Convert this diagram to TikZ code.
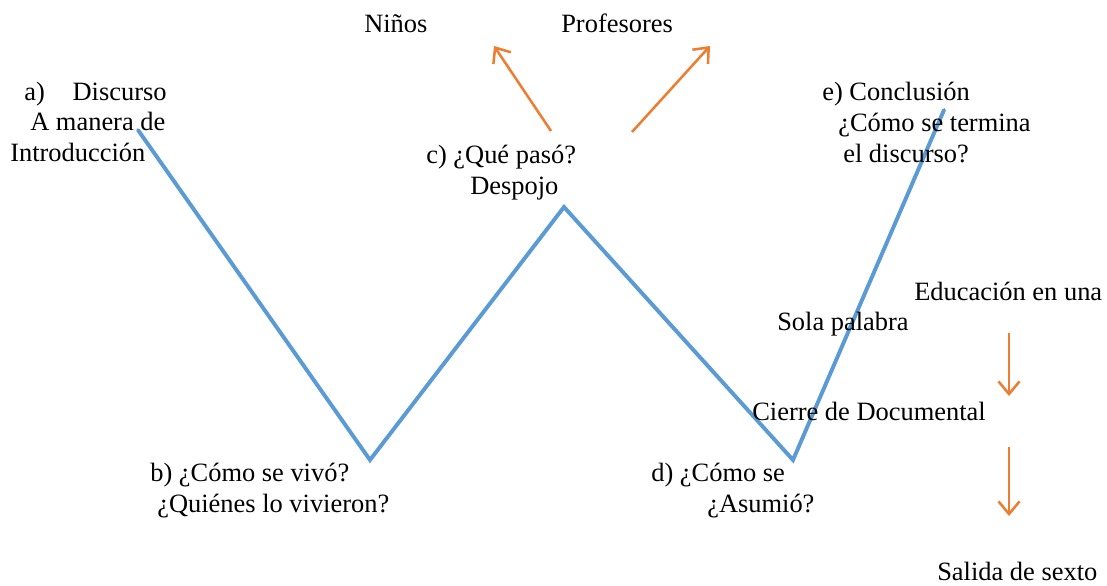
\documentclass[tikz,border=0pt]{standalone}
\usepackage{fontspec}
\setmainfont{Liberation Serif}
\usetikzlibrary{arrows.meta}
\definecolor{azul}{HTML}{5B9BD5}
\definecolor{naranja}{HTML}{ED7D31}
\tikzset{
  wline/.style={azul, line width=2.8pt, line cap=round, line join=miter},
  flecha/.style={naranja, line width=1.8pt, -{Straight Barb[length=9pt,width=15pt]}},
  txt/.style={anchor=base west, inner sep=0pt, font=\fontsize{18.8}{22}\selectfont}
}
\begin{document}
\begin{tikzpicture}[x=0.025cm, y=-0.025cm]
			\useasboundingbox (0,0) rectangle (1107,586);
			% la W
			\coordinate (p1) at (138,130);
			\coordinate (p2) at (370,460);
			\coordinate (p3) at (564,207);
			\coordinate (p4) at (793,460);
			\coordinate (p5) at (944,110);
			\draw[wline](p1)--(p2)--(p3)--(p4)--(p5);
			% textos
			\node[txt] (ninos) at (364,32) {Niños};
			\node[txt] (prof) at (561,32) {Profesores};
			\node[txt] (a1) at (24,100) {a)\hspace{1.05em}Discurso};
			\node[txt] (a2) at (30,130) {A manera de};
			\node[txt] (a3) at (10,161) {Introducción};
			\node[txt] (c1) at (426,163) {c) ¿Qué pasó?};
			\node[txt] (c2) at (470,194) {Despojo};
			\node[txt] (e1) at (822,100) {e) Conclusión};
			\node[txt] (e2) at (838,131) {¿Cómo se termina};
			\node[txt] (e3) at (843,162) {el discurso?};
			\node[txt] (edu) at (914,300) {Educación en una};
			\node[txt] (sola) at (777,330) {Sola palabra};
			\node[txt] (cierre) at (752,420) {Cierre de Documental};
			\node[txt] (b1) at (150,481) {b) ¿Cómo se vivó?};
			\node[txt] (b2) at (157,512) {¿Quiénes lo vivieron?};
			\node[txt] (d1) at (651,481) {d) ¿Cómo se};
			\node[txt] (d2) at (707,512) {¿Asumió?};
			\node[txt] (salida) at (937,580) {Salida de sexto};
			% flechas
			\coordinate (n0) at (551,131); \coordinate (n1) at (494,46);
			\coordinate (f0) at (632,132); \coordinate (f1) at (710,46);
			\coordinate (v0) at (1009,333); \coordinate (v1) at (1009,396);
			\coordinate (w0) at (1009,447); \coordinate (w1) at (1009,516);
			\draw[flecha](n0)--(n1);
			\draw[flecha](f0)--(f1);
			\draw[flecha](v0)--(v1);
			\draw[flecha](w0)--(w1);
			\end{tikzpicture}
\end{document}
